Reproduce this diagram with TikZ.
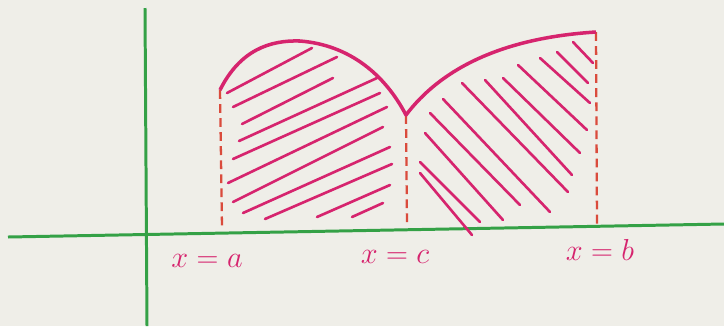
\documentclass[tikz,border=0pt]{standalone}
\usepackage{tikz}
\usetikzlibrary{calc,positioning}
\definecolor{paper}{HTML}{EFEEE8}
\definecolor{axisgreen}{HTML}{34A146}
\definecolor{inkpink}{HTML}{D6246E}
\definecolor{dashred}{HTML}{DA4B3C}
\tikzset{
  axisline/.style={axisgreen,line width=1.7pt},
  curve/.style={inkpink,line width=2pt,line join=round},
  hatch/.style={inkpink,line width=1.5pt,line cap=round},
  bound/.style={dashred,line width=1.3pt,dash pattern=on 5pt off 3pt},
  lbl/.style={text=inkpink,font=\LARGE,inner sep=1pt},
}

\begin{document}
\begin{tikzpicture}[x=0.02cm,y=-0.02cm]
\useasboundingbox[fill=paper] (0,0) rectangle (724,326);
% axes
\coordinate (ytop) at (145,8);   \coordinate (ybot) at (147,326);
\coordinate (xl) at (8,237);     \coordinate (xr) at (724,224);
\draw[axisline] (ytop) -- (ybot);
\draw[axisline] (xl) -- (xr);
% limits
\coordinate (atop) at (220,90);  \coordinate (abot) at (222,228);
\coordinate (ctop) at (406,115); \coordinate (cbot) at (407,226);
\coordinate (btop) at (596,32);  \coordinate (bbot) at (597,224);
\draw[bound] (atop) -- (abot);
\draw[bound] (ctop) -- (cbot);
\draw[bound] (btop) -- (bbot);
% curve
\draw[curve] (atop) .. controls (240,50) and (270,40) .. (300,41)
  .. controls (350,45) and (385,75) .. (ctop)
  .. controls (440,70) and (500,38) .. (btop);
% hatching, left part
\foreach \xa/\ya/\xb/\yb in {227/93/312/48, 233/107/337/57, 242/124/333/78,
  239/141/377/78, 233/159/380/93, 228/183/387/107, 233/202/383/127,
  243/213/390/147, 265/219/392/164, 317/217/390/185, 352/217/383/203}
  \draw[hatch] (\xa,\ya) -- (\xb,\yb);
% hatching, right part
\foreach \xa/\ya/\xb/\yb in {420/173/472/235, 420/162/480/222, 425/133/503/220,
  430/113/520/205, 443/99/550/212, 462/83/568/192, 485/80/572/175,
  503/78/580/153, 518/65/587/130, 540/58/590/103, 557/52/588/83, 573/42/593/63}
  \draw[hatch] (\xa,\ya) -- (\xb,\yb);
% labels
\node[lbl] (la) at (207,261) {$x=a$};
\node[lbl] (lc) at (395,257) {$x=c$};
\node[lbl] (lb) at (600,250) {$x=b$};
\end{tikzpicture}
\end{document}
